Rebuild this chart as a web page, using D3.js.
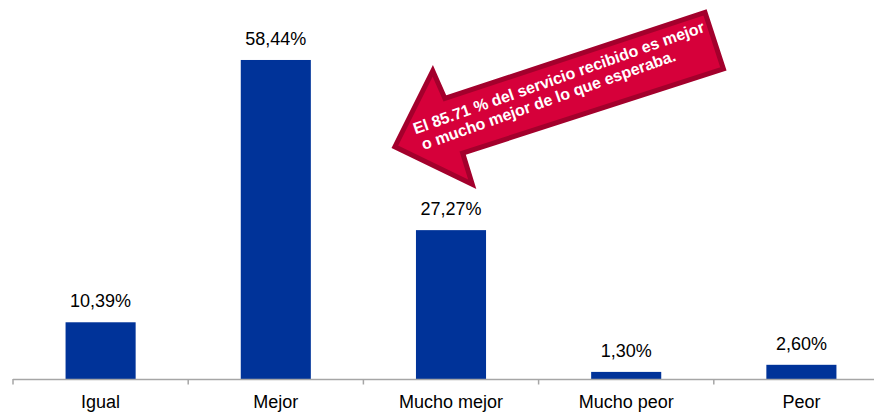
<!DOCTYPE html>
<html>
<head>
<meta charset="utf-8">
<script src="https://cdn.jsdelivr.net/npm/d3@7"></script>
<style>
  html, body { margin: 0; padding: 0; background: #fff; }
  svg { display: block; }
</style>
</head>
<body>
<svg id="chart" width="874" height="412"></svg>
<script>
// Satisfaction comparison: service received vs. expectation
const categories = ["Igual", "Mejor", "Mucho mejor", "Mucho peor", "Peor"];
const values = [10.39, 58.44, 27.27, 1.30, 2.60];
const valueLabels = ["10,39%", "58,44%", "27,27%", "1,30%", "2,60%"];
const calloutLines = [
  "El 85.71 % del servicio recibido es mejor",
  "o mucho mejor de lo que esperaba."
];

const svg = d3.select("#chart");
const font = "'Liberation Sans', Arial, Helvetica, sans-serif";

const baseY = 379;
const x = d3.scaleBand()
  .domain(categories)
  .range([13, 889])
  .paddingInner(0.6)
  .paddingOuter(0.3);

const y = d3.scaleLinear()
  .domain([0, 60])
  .range([baseY, baseY - 60 * 5.459]);

// Bars
svg.append("g").selectAll("rect")
  .data(values)
  .join("rect")
  .attr("x", (d, i) => x(categories[i]))
  .attr("y", d => y(d))
  .attr("width", x.bandwidth())
  .attr("height", d => y(0) - y(d))
  .attr("fill", "#003399");

// Value labels above bars
svg.append("g").selectAll("text")
  .data(values)
  .join("text")
  .attr("x", (d, i) => x(categories[i]) + x.bandwidth() / 2)
  .attr("y", d => y(d) - 15)
  .attr("text-anchor", "middle")
  .attr("font-family", font)
  .attr("font-size", 18)
  .attr("fill", "#000")
  .text((d, i) => valueLabels[i]);

// Category axis: baseline with ticks between categories
const gap = (x.step() - x.bandwidth()) / 2;
const boundaries = categories.map(c => x(c) - gap).concat([x(categories[categories.length - 1]) + x.bandwidth() + gap]);
const axis = svg.append("g");
axis.append("line")
  .attr("x1", boundaries[0]).attr("x2", boundaries[boundaries.length - 1])
  .attr("y1", baseY + 0.5).attr("y2", baseY + 0.5)
  .attr("stroke", "#a6a6a6").attr("stroke-width", 1.5);
axis.selectAll("line.tick")
  .data(boundaries)
  .join("line")
  .attr("class", "tick")
  .attr("x1", d => d).attr("x2", d => d)
  .attr("y1", baseY).attr("y2", baseY + 5.5)
  .attr("stroke", "#a6a6a6").attr("stroke-width", 1.5);
axis.selectAll("text")
  .data(categories)
  .join("text")
  .attr("x", d => x(d) + x.bandwidth() / 2)
  .attr("y", 407.5)
  .attr("text-anchor", "middle")
  .attr("font-family", font)
  .attr("font-size", 18)
  .attr("fill", "#000")
  .text(d => d);

// Callout arrow pointing down-left, with rotated caption
const arrow = svg.append("g")
  .attr("transform", "translate(391.7,148.3) rotate(-18)");
const arrowPts = [
  [3.5, -0.5], [63, -61], [66, -31], [340, -32.5],
  [340, 27], [66, 26.5], [65.5, 59]
];
arrow.append("path")
  .attr("d", d3.line()(arrowPts) + "Z")
  .attr("fill", "#d6003a")
  .attr("stroke", "#a3002c")
  .attr("stroke-width", 5)
  .attr("stroke-linejoin", "miter");

const caption = arrow.append("g")
  .attr("transform", "translate(27,-6) rotate(-1.5)");
caption.selectAll("text")
  .data(calloutLines)
  .join("text")
  .attr("x", (d, i) => i * 2.5)
  .attr("y", (d, i) => i * 17.5)
  .attr("font-family", font)
  .attr("font-size", 16)
  .attr("font-weight", "bold")
  .attr("fill", "#fff")
  .text(d => d);
</script>
</body>
</html>
